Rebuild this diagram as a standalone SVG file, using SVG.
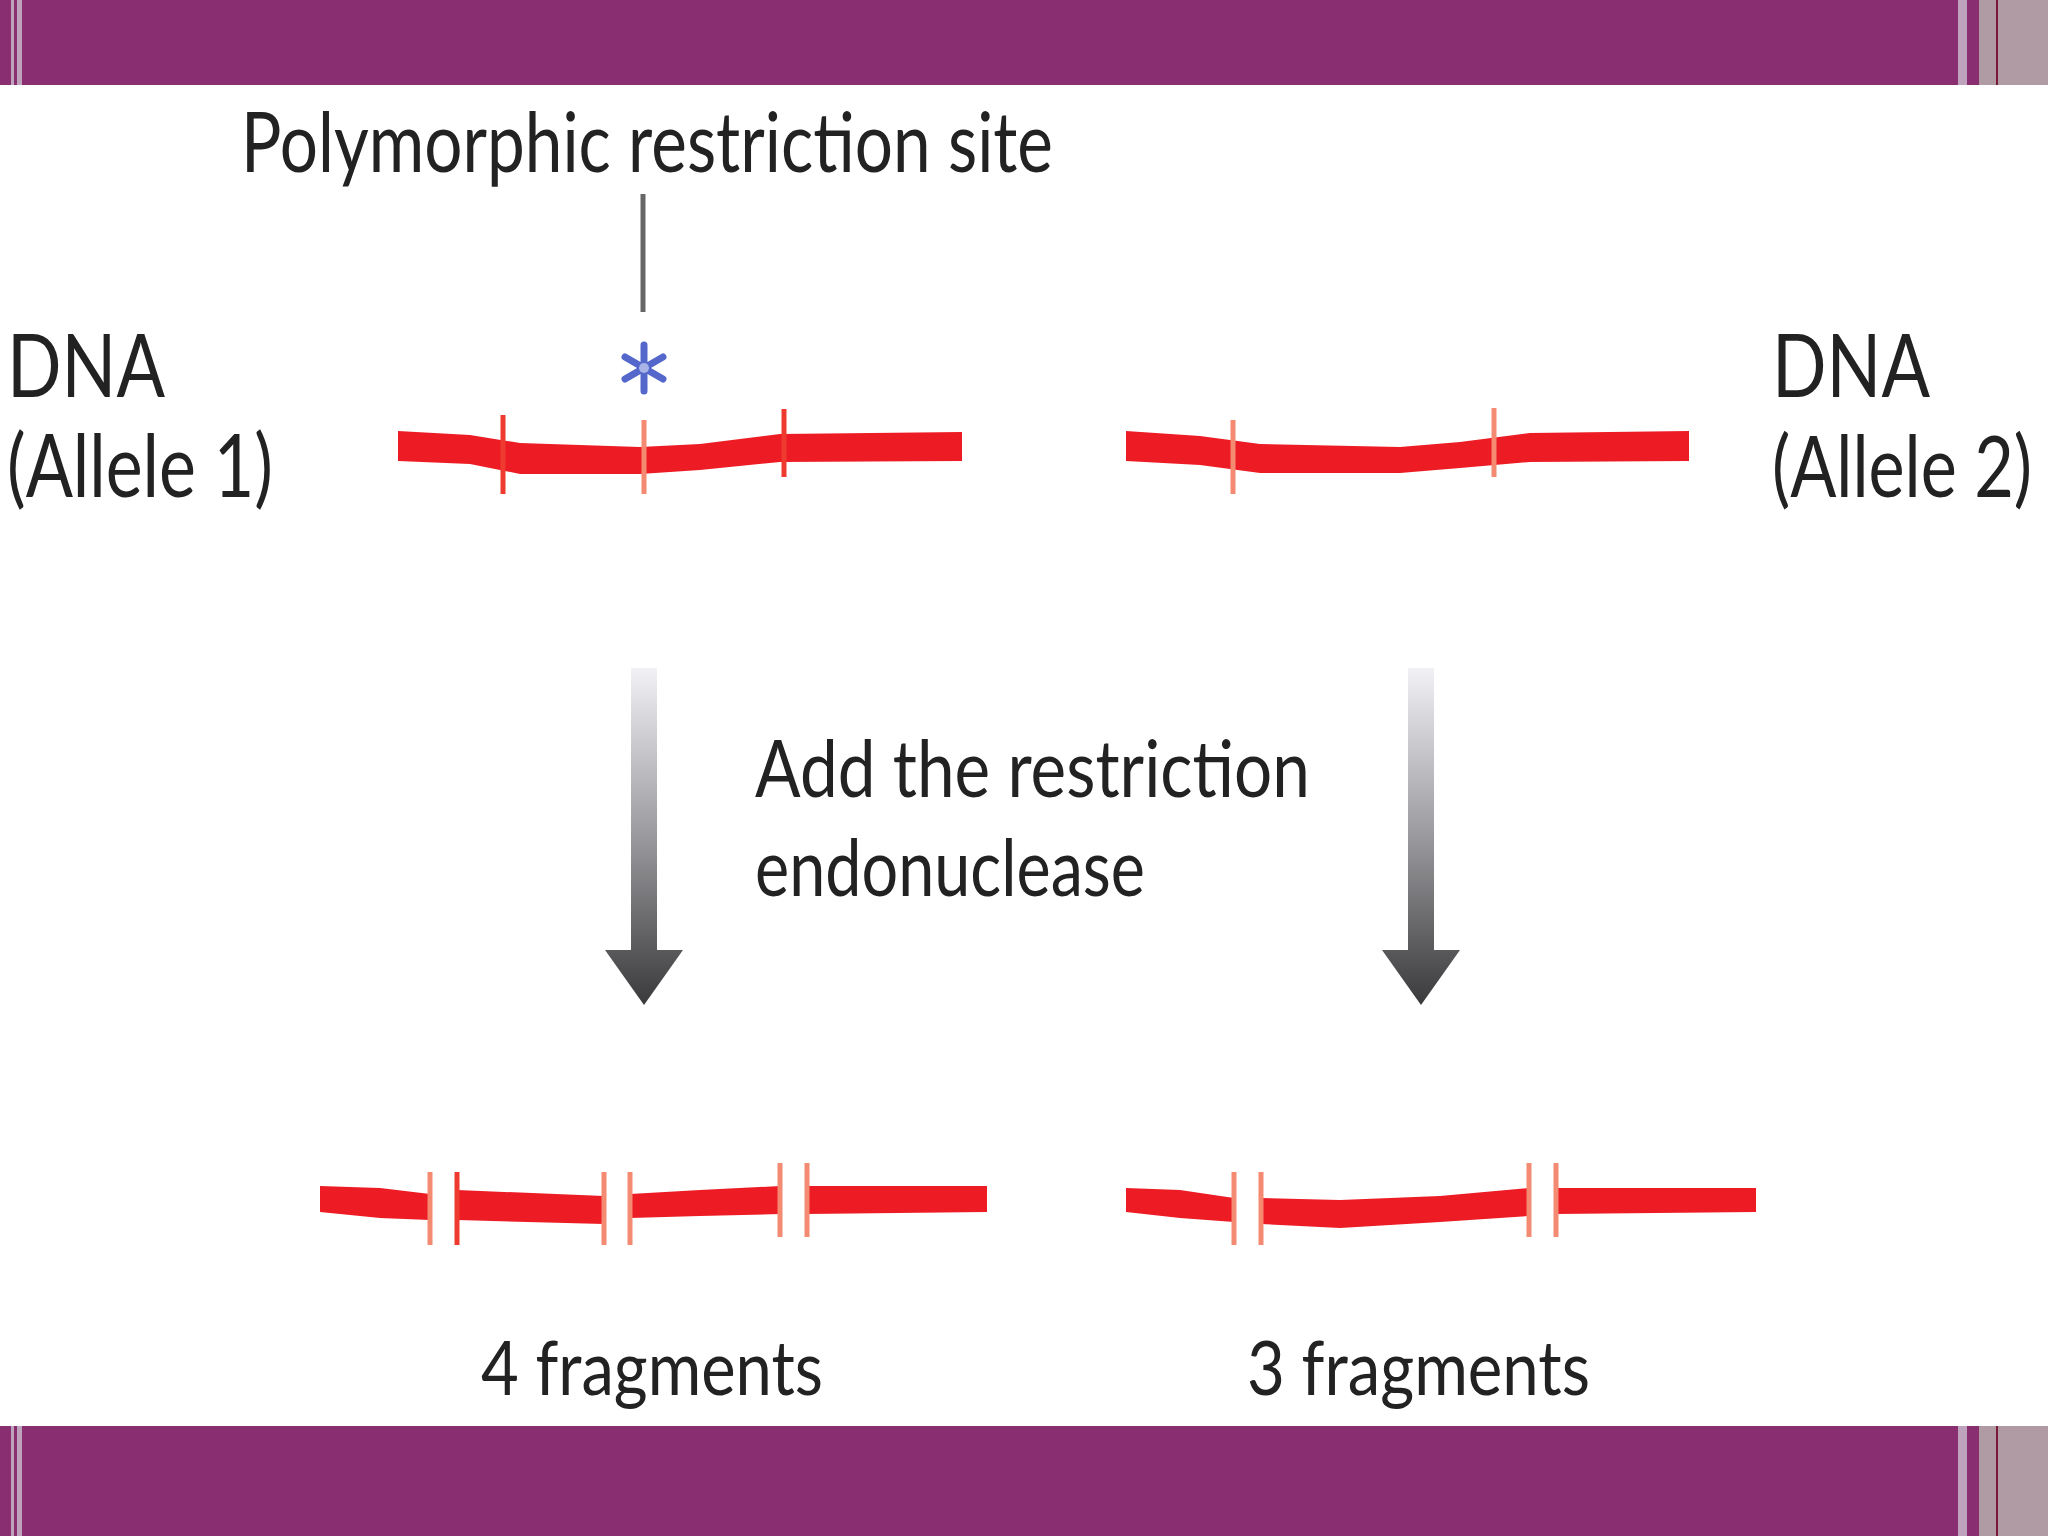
<svg xmlns="http://www.w3.org/2000/svg" width="2048" height="1536" viewBox="0 0 2048 1536">
<style>
.lbl{font-family:"Lato","Liberation Sans",sans-serif;fill:#222;font-weight:400}
.dna{fill:#ED1C24}
.tick{stroke:#EF3A30;stroke-width:5}
.tickl{stroke:#F48A72;stroke-width:5}
.bar{fill:#8A2E72}
.grey{fill:#B09BA5}
.lt{fill:#BFA3BD}
.dk{fill:#7A1838}
</style>
<defs>
<linearGradient id="ag" x1="0" y1="0" x2="0" y2="1">
<stop offset="0" stop-color="#F2F2F6"/>
<stop offset="0.5" stop-color="#9A9A9E"/>
<stop offset="1" stop-color="#3A3A3C"/>
</linearGradient>
</defs>
<rect width="2048" height="1536" fill="#FFFFFF"/>
<g id="frame">
<rect class="bar" x="0" y="0" width="2048" height="85"/>
<rect class="bar" x="0" y="1426" width="2048" height="110"/>
<rect class="lt" x="11" y="0" width="3" height="85"/>
<rect class="lt" x="17" y="0" width="5" height="85"/>
<rect class="lt" x="11" y="1426" width="3" height="110"/>
<rect class="lt" x="17" y="1426" width="5" height="110"/>
<rect class="lt" x="1958" y="0" width="9" height="85"/>
<rect class="grey" x="1979" y="0" width="69" height="85"/>
<rect class="dk" x="1996" y="0" width="2" height="85"/>
<rect class="lt" x="1958" y="1426" width="9" height="110"/>
<rect class="grey" x="1979" y="1426" width="69" height="110"/>
<rect class="dk" x="1996" y="1426" width="2" height="110"/>
</g>
<g id="title">
<text class="lbl" x="241" y="172" font-size="84" textLength="812" lengthAdjust="spacingAndGlyphs">Polymorphic restriction site</text>
</g>
<g id="site-marker">
<g stroke="#5468CC" stroke-width="7" stroke-linecap="round">
<line x1="644" y1="345" x2="644" y2="391"/>
<line x1="625" y1="357" x2="663" y2="379"/>
<line x1="625" y1="379" x2="663" y2="357"/>
</g>
<circle cx="644" cy="368" r="5" fill="#A8B4E6"/>
</g>
<g id="label-allele1">
<text class="lbl" x="7" y="397" font-size="88" textLength="158" lengthAdjust="spacingAndGlyphs">DNA</text>
<text class="lbl" x="7" y="497" font-size="88" textLength="266" lengthAdjust="spacingAndGlyphs">(Allele 1)</text>
</g>
<g id="label-allele2">
<text class="lbl" x="1772" y="397" font-size="88" textLength="158" lengthAdjust="spacingAndGlyphs">DNA</text>
<text class="lbl" x="1772" y="497" font-size="86" textLength="260" lengthAdjust="spacingAndGlyphs">(Allele 2)</text>
</g>
<g id="dna-allele1">
<polygon class="dna" points="398,431 470,435 520,443 640,447 700,444 780,434 962,432 962,461 780,462 700,470 640,474 520,474 470,464 398,461"/>
<line class="tick" x1="503" y1="415" x2="503" y2="494"/>
<line class="tickl" x1="644" y1="420" x2="644" y2="494"/>
<line class="tick" x1="784" y1="409" x2="784" y2="477"/>
</g>
<g id="dna-allele2">
<polygon class="dna" points="1126,431 1200,436 1260,444 1400,447 1460,442 1530,433 1689,431 1689,461 1530,462 1460,468 1400,473 1260,473 1200,465 1126,461"/>
<line class="tickl" x1="1233" y1="420" x2="1233" y2="494"/>
<line class="tickl" x1="1494" y1="408" x2="1494" y2="477"/>
</g>
<g id="step-label">
<text class="lbl" x="755" y="797" font-size="80" textLength="555" lengthAdjust="spacingAndGlyphs">Add the restriction</text>
<text class="lbl" x="755" y="896" font-size="80" textLength="390" lengthAdjust="spacingAndGlyphs">endonuclease</text>
</g>
<g id="fragments-allele1">
<polygon class="dna" points="320,1186 380,1188 430,1194 430,1220 380,1218 320,1212"/>
<polygon class="dna" points="457,1190 604,1196 604,1224 457,1220"/>
<polygon class="dna" points="630,1194 700,1190 780,1186 780,1214 700,1216 630,1218"/>
<polygon class="dna" points="807,1186 987,1186 987,1212 807,1214"/>
<line class="tickl" x1="430" y1="1172" x2="430" y2="1245"/>
<line class="tick" x1="457" y1="1172" x2="457" y2="1245"/>
<line class="tickl" x1="604" y1="1172" x2="604" y2="1245"/>
<line class="tickl" x1="630" y1="1172" x2="630" y2="1245"/>
<line class="tickl" x1="780" y1="1163" x2="780" y2="1237"/>
<line class="tickl" x1="807" y1="1163" x2="807" y2="1237"/>
</g>
<g id="fragments-allele2">
<polygon class="dna" points="1126,1188 1180,1190 1234,1198 1234,1222 1180,1218 1126,1212"/>
<polygon class="dna" points="1261,1198 1340,1200 1440,1196 1529,1188 1529,1216 1440,1222 1340,1228 1261,1224"/>
<polygon class="dna" points="1556,1188 1756,1188 1756,1212 1556,1214"/>
<line class="tickl" x1="1234" y1="1172" x2="1234" y2="1245"/>
<line class="tickl" x1="1261" y1="1172" x2="1261" y2="1245"/>
<line class="tickl" x1="1529" y1="1163" x2="1529" y2="1237"/>
<line class="tickl" x1="1556" y1="1163" x2="1556" y2="1237"/>
</g>
<g id="result-labels">
<text class="lbl" x="481" y="1395" font-size="76" textLength="342" lengthAdjust="spacingAndGlyphs">4 fragments</text>
<text class="lbl" x="1247" y="1395" font-size="76" textLength="343" lengthAdjust="spacingAndGlyphs">3 fragments</text>
</g>
<g id="connectors">
<line x1="643" y1="194" x2="643" y2="312" stroke="#666" stroke-width="5"/>
<path d="M631,668 H657 V950 H683 L644,1005 L605,950 H631 Z" fill="url(#ag)"/>
<path d="M1408,668 H1434 V950 H1460 L1421,1005 L1382,950 H1408 Z" fill="url(#ag)"/>
</g>
</svg>
